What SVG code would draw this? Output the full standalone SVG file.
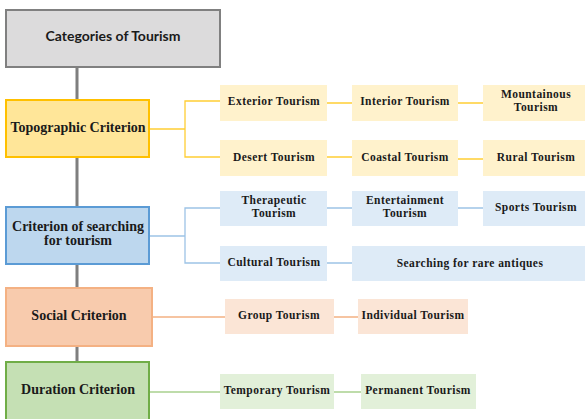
<svg xmlns="http://www.w3.org/2000/svg" width="585" height="419" viewBox="0 0 585 419">
<style>
text.t{font-family:'Liberation Serif','Times New Roman',serif;font-weight:700;fill:#1a1a1a;text-anchor:middle}
text.m{font-size:14px}
text.c{font-size:11.5px;letter-spacing:0.45px}
text.ttl{font-family:Lato,'Liberation Sans',sans-serif;font-weight:700;font-size:14px;fill:#1a1a1a;text-anchor:middle}
.y{fill:#fff2cc}.b{fill:#deebf7}.o{fill:#fbe5d6}.g{fill:#e2f0d9}
</style>
<rect width="585" height="419" fill="#fff"/>
<g id="connectors" fill="none">
<path d="M77 67V100M77 157V207M77 264V288M77 346V362" stroke="#7f7f7f" stroke-width="3"/>
<g stroke="#ffc000" stroke-width="1.3" opacity="0.8">
<path d="M149 129H185M220 101H185V157H220"/>
<path d="M327 103H352M458 103H483M327 157H352M458 159H483"/>
</g>
<g stroke="#9dc3e6" stroke-width="1.3">
<path d="M149 236H185M220 208H185V263H220"/>
<path d="M327 208H352M458 208H483M327 263H352"/>
</g>
<g stroke="#f4b183" stroke-width="1.3">
<path d="M152 317H225M334 317H358"/>
</g>
<g stroke="#a9d18e" stroke-width="1.3">
<path d="M149 392H220M334 392H361"/>
</g>
</g>
<g id="categories"><rect x="6" y="10" width="214" height="57" fill="#dcdbdc" stroke="#808080" stroke-width="2"/><text class="ttl" x="113" y="41">Categories of Tourism</text></g>
<g id="topographic"><rect x="6" y="100" width="143" height="57" fill="#ffe699" stroke="#ffc000" stroke-width="2"/><text class="t m" x="78" y="132">Topographic Criterion</text></g>
<g id="searching"><rect x="6" y="207" width="143" height="57" fill="#bdd7ee" stroke="#5b9bd5" stroke-width="2"/><text class="t m" x="78" y="231">Criterion of searching</text><text class="t m" x="78" y="245">for tourism</text></g>
<g id="social"><rect x="6" y="288" width="146" height="58" fill="#f8cbad" stroke="#f4b183" stroke-width="2"/><text class="t m" x="79" y="320">Social Criterion</text></g>
<g id="duration"><rect x="6" y="362" width="143" height="60" fill="#c5e0b4" stroke="#70ad47" stroke-width="2"/><text class="t m" x="78" y="394">Duration Criterion</text></g>

<g id="exterior"><rect class="y" x="220" y="85" width="107" height="36"/><text class="t c" x="274" y="104.5">Exterior Tourism</text></g>
<g id="interior"><rect class="y" x="352" y="85" width="106" height="36"/><text class="t c" x="405" y="104.5">Interior Tourism</text></g>
<g id="mountainous"><rect class="y" x="483" y="85" width="102" height="36"/><text class="t c" x="536" y="98">Mountainous</text><text class="t c" x="536" y="111">Tourism</text></g>
<g id="desert"><rect class="y" x="220" y="140" width="107" height="36"/><text class="t c" x="274" y="160.5">Desert Tourism</text></g>
<g id="coastal"><rect class="y" x="352" y="140" width="106" height="36"/><text class="t c" x="405" y="160.5">Coastal Tourism</text></g>
<g id="rural"><rect class="y" x="483" y="140" width="102" height="36"/><text class="t c" x="536" y="160.5">Rural Tourism</text></g>

<g id="therapeutic"><rect class="b" x="220" y="191" width="107" height="35"/><text class="t c" x="274" y="204">Therapeutic</text><text class="t c" x="274" y="217">Tourism</text></g>
<g id="entertainment"><rect class="b" x="352" y="191" width="106" height="35"/><text class="t c" x="405" y="204">Entertainment</text><text class="t c" x="405" y="217">Tourism</text></g>
<g id="sports"><rect class="b" x="483" y="191" width="102" height="35"/><text class="t c" x="536" y="211">Sports Tourism</text></g>
<g id="cultural"><rect class="b" x="220" y="246" width="107" height="35"/><text class="t c" x="274" y="266">Cultural Tourism</text></g>
<g id="antiques"><rect class="b" x="352" y="246" width="233" height="35"/><text class="t c" x="470" y="266.5">Searching for rare antiques</text></g>

<g id="group"><rect class="o" x="225" y="299" width="109" height="35"/><text class="t c" x="279" y="319">Group Tourism</text></g>
<g id="individual"><rect class="o" x="358" y="299" width="110" height="35"/><text class="t c" x="413" y="319">Individual Tourism</text></g>

<g id="temporary"><rect class="g" x="220" y="374" width="114" height="35"/><text class="t c" x="277" y="394">Temporary Tourism</text></g>
<g id="permanent"><rect class="g" x="361" y="374" width="115" height="35"/><text class="t c" x="418" y="394">Permanent Tourism</text></g>
</svg>
